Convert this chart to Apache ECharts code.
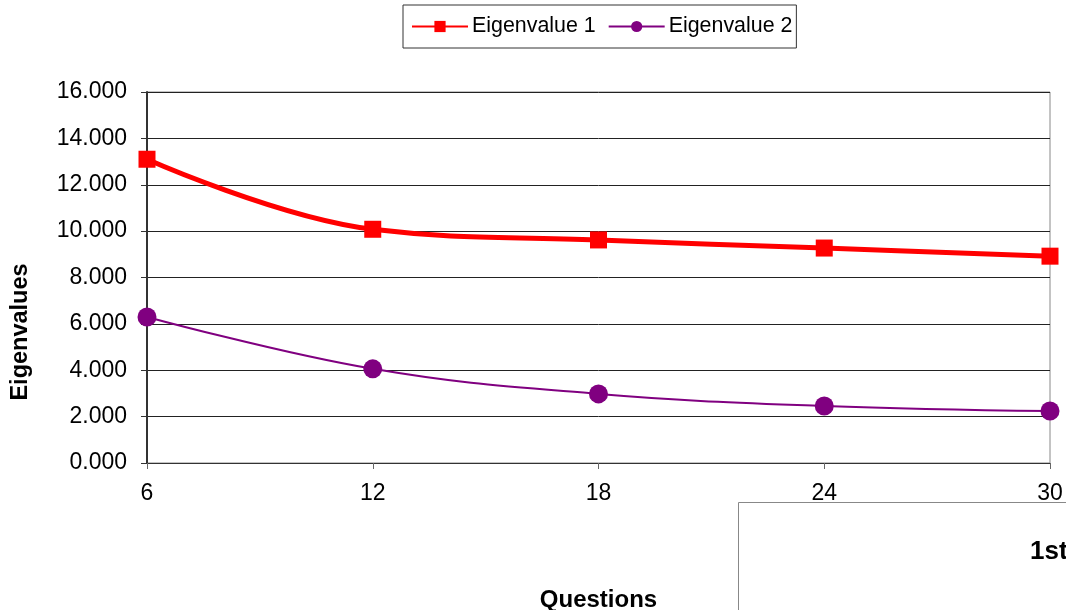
<!DOCTYPE html>
<html>
<head>
<meta charset="utf-8">
<script src="https://cdn.jsdelivr.net/npm/echarts@6/dist/echarts.min.js"></script>
<style>
  html, body { margin: 0; padding: 0; background: #fff; }
  #chart { width: 1066px; height: 610px; }
</style>
</head>
<body>
<div id="chart"></div>
<script>
// Number of questions per run
const questions = ['6', '12', '18', '24', '30'];
// First and second eigenvalues for each run
const eigen1 = [13.1, 10.08, 9.62, 9.27, 8.92];
const eigen2 = [6.3, 4.06, 2.98, 2.46, 2.24];
const seriesNames = ['Eigenvalue 1', 'Eigenvalue 2'];
const yTitle = 'Eigenvalues';
const xTitle = 'Questions';
const boxTitle = '1st';

const FONT = '"Liberation Sans", Arial, sans-serif';
const chart = echarts.init(document.getElementById('chart'), null, { renderer: 'canvas' });

chart.setOption({
  animation: false,
  backgroundColor: '#ffffff',
  textStyle: { fontFamily: FONT },
  legend: {
    left: 403,
    top: 5,
    padding: [11, 4, 11, 8],
    borderColor: '#333',
    borderWidth: 1,
    itemWidth: 56,
    itemHeight: 14,
    itemGap: 12,
    textStyle: { fontFamily: FONT, fontSize: 21.4, color: '#000', padding: [0, 0, 0, -1] },
    data: seriesNames
  },
  grid: {
    left: 147, right: 16, top: 92, bottom: 147,
    outerBoundsMode: 'none',
    containLabel: false,
    show: true, borderColor: '#888', borderWidth: 1
  },
  xAxis: {
    type: 'category',
    data: questions,
    boundaryGap: false,
    name: xTitle,
    nameLocation: 'middle',
    nameGap: 125,
    nameTextStyle: { fontFamily: FONT, fontSize: 24, fontWeight: 'bold', color: '#000' },
    axisLine: { lineStyle: { color: '#333', width: 1 } },
    axisTick: { show: true, alignWithLabel: true, length: 6, lineStyle: { color: '#666' } },
    axisLabel: { fontFamily: FONT, fontSize: 23, color: '#000', margin: 19 },
    splitLine: { show: false }
  },
  yAxis: {
    type: 'value',
    min: 0, max: 16, interval: 2,
    axisLine: { show: true, lineStyle: { color: '#333', width: 2 } },
    axisTick: { show: true, length: 6, lineStyle: { color: '#333' } },
    axisLabel: {
      fontFamily: FONT, fontSize: 23, color: '#000', margin: 20,
      formatter: v => v.toFixed(3)
    },
    splitLine: { show: true, lineStyle: { color: '#222', width: 1 } }
  },
  series: [
    {
      name: seriesNames[0],
      type: 'line',
      data: eigen1,
      smooth: 0.4,
      symbol: 'rect',
      symbolSize: 17,
      itemStyle: { color: '#ff0000' },
      lineStyle: { color: '#ff0000', width: 5 },
      z: 3
    },
    {
      name: seriesNames[1],
      type: 'line',
      data: eigen2,
      smooth: 0.4,
      symbol: 'circle',
      symbolSize: 19,
      itemStyle: { color: '#800080' },
      lineStyle: { color: '#800080', width: 2 },
      z: 2
    }
  ],
  graphic: [
    {
      // vertical axis title, sitting a little below the plot's midline
      type: 'text',
      x: 21,
      y: 332,
      rotation: Math.PI / 2,
      style: {
        text: yTitle,
        font: 'bold 23.5px ' + FONT,
        fill: '#000',
        align: 'center',
        verticalAlign: 'middle'
      }
    },
    {
      type: 'rect',
      shape: { x: 738.5, y: 502.5, width: 400, height: 200 },
      style: { fill: '#fff', stroke: '#888', lineWidth: 1 }
    },
    {
      type: 'text',
      x: 1030,
      y: 552,
      style: {
        text: boxTitle,
        font: 'bold 26px ' + FONT,
        fill: '#000',
        verticalAlign: 'middle'
      }
    }
  ]
});
</script>
</body>
</html>
